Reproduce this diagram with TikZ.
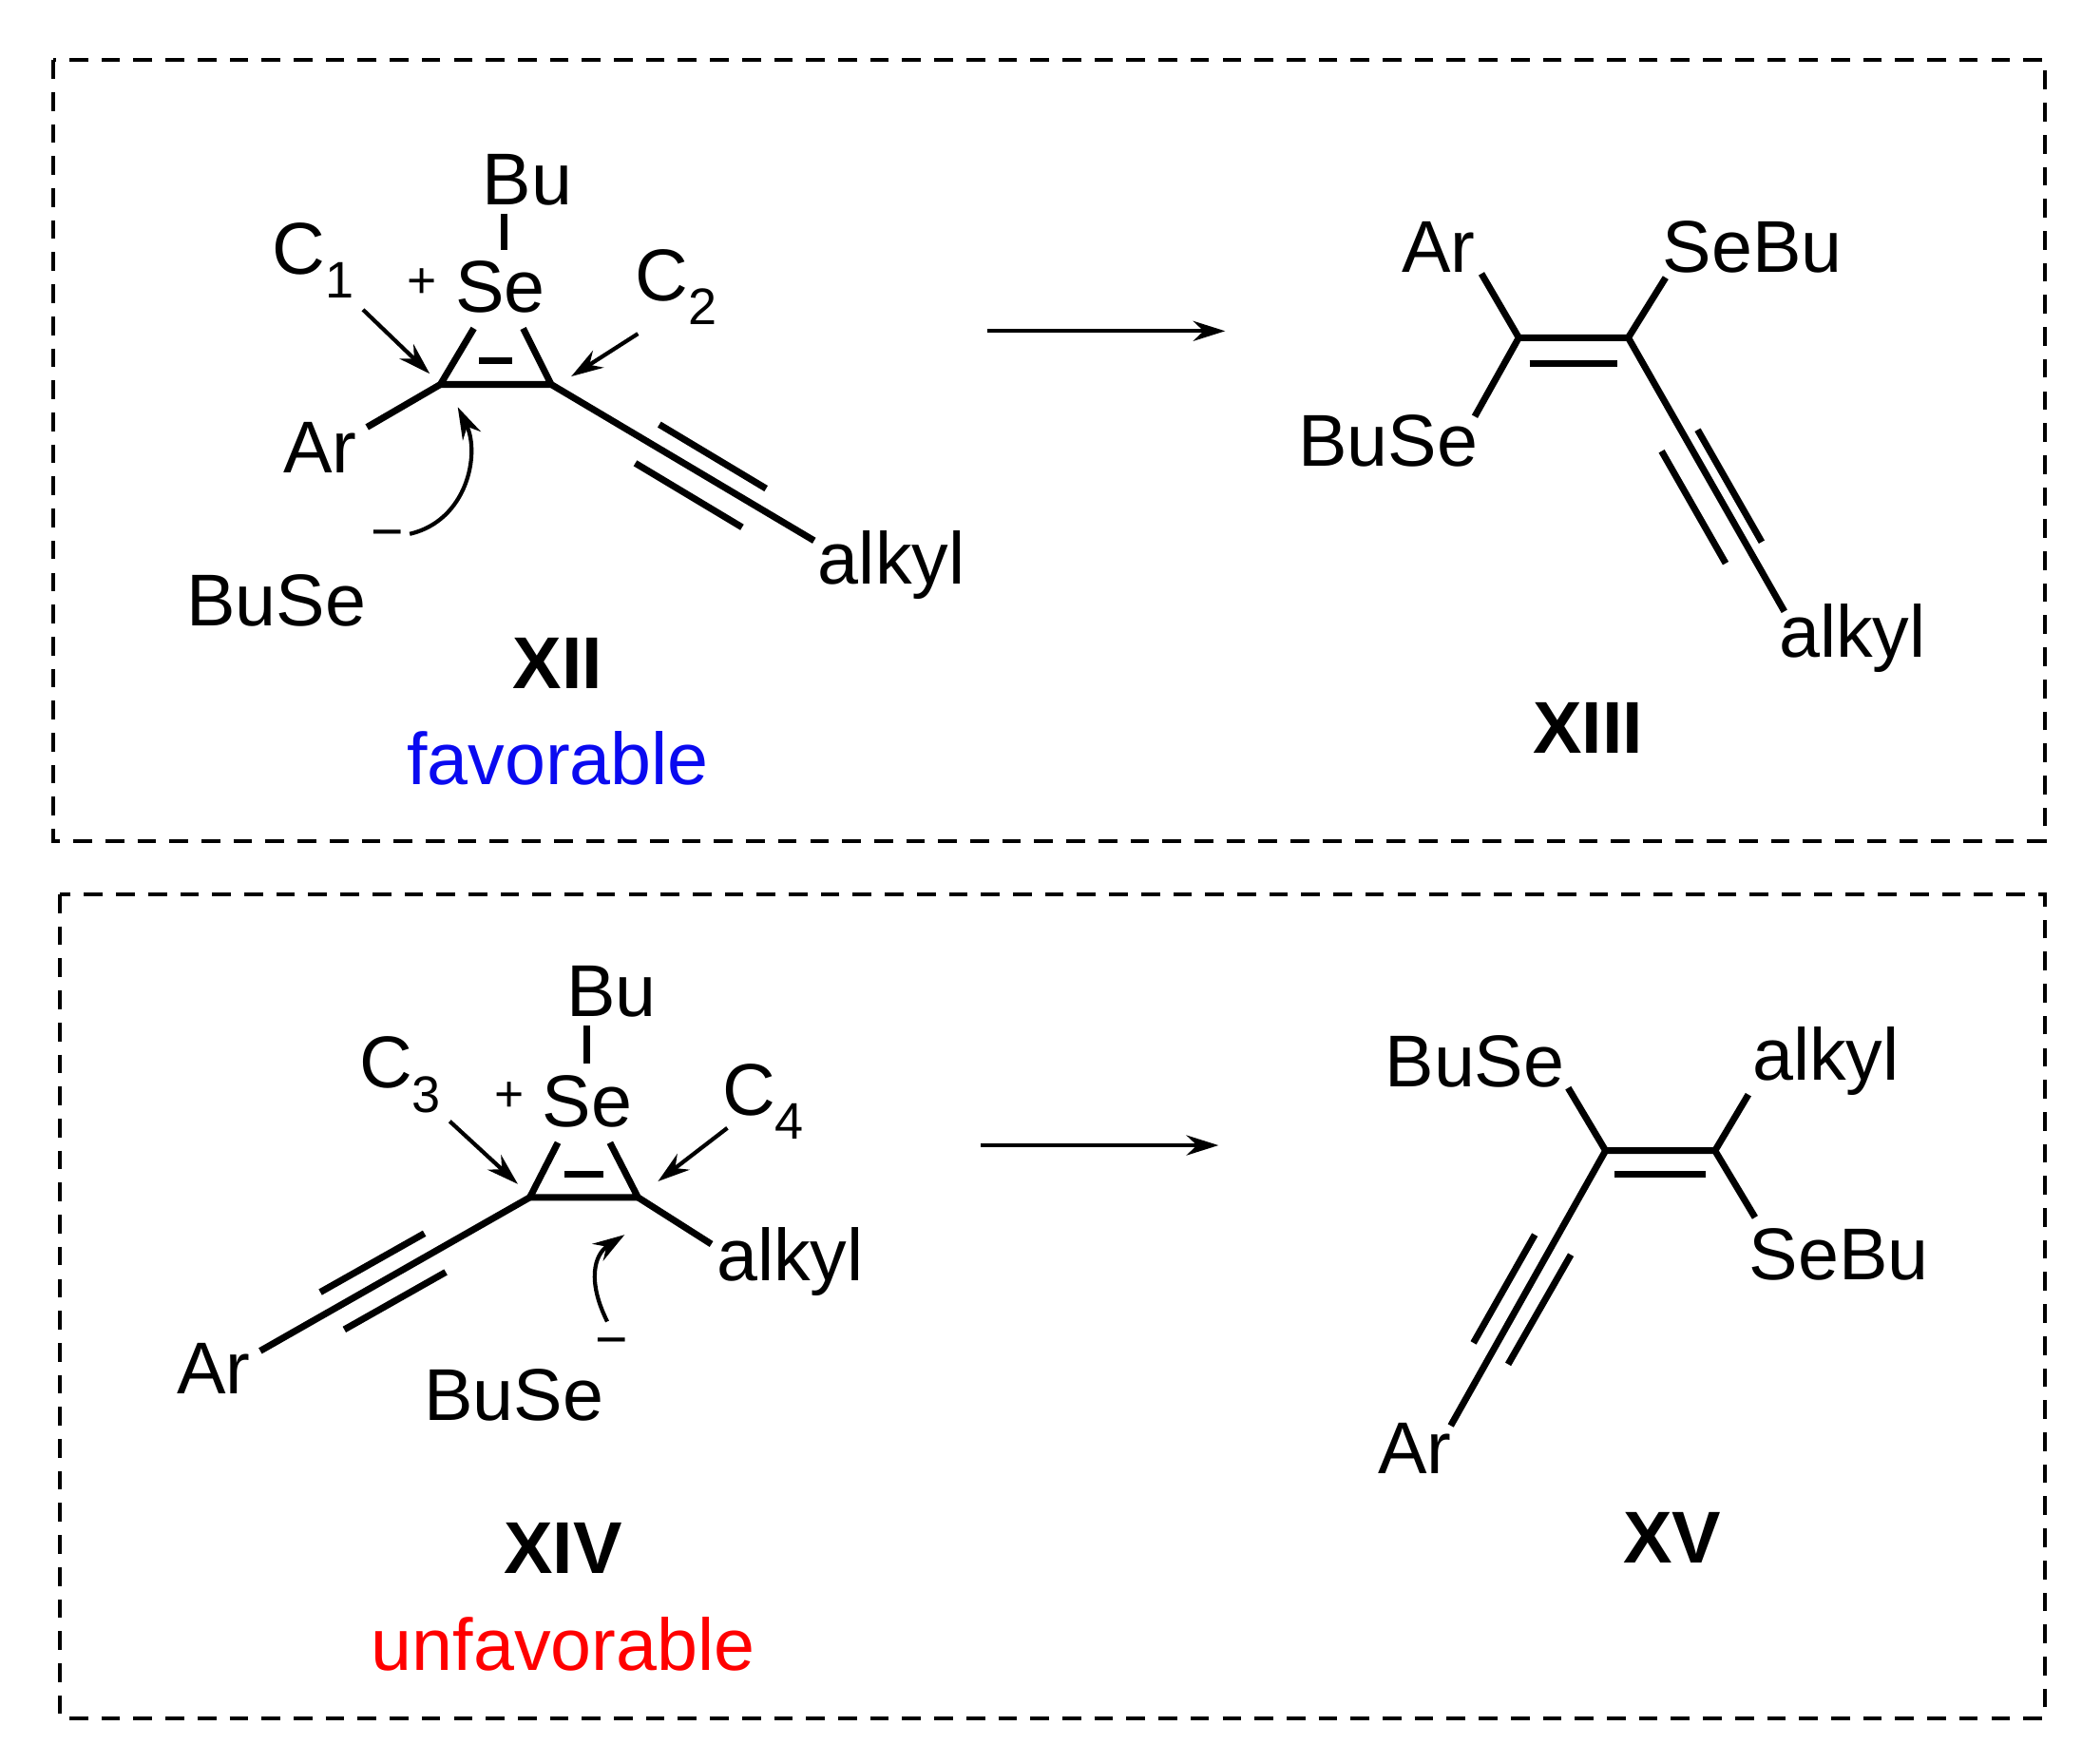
\documentclass[tikz,border=0pt]{standalone}
\usepackage{fontspec}
\setmainfont{Liberation Sans}
\usetikzlibrary{arrows.meta}
\begin{document}
\begin{tikzpicture}[x=1pt,y=-1pt,line width=5pt,
  lbl/.style={font=\fontsize{55}{64}\selectfont,inner sep=0pt},
  bl/.style={font=\fontsize{55}{64}\selectfont\bfseries,inner sep=0pt},
  bnd/.style={line width=5pt},
  arr/.style={line width=3pt,-{Stealth[length=24pt,width=15pt]}},
  frame/.style={line width=2.8pt,dash pattern=on 14pt off 10pt}]
\useasboundingbox (0,0) rectangle (1560,1321);
\draw[frame] (40,45) rectangle (1532,630);
\draw[frame] (45,670) rectangle (1532,1287);
% XII
\node[lbl] (bu1) at (395,135) {Bu};
\node[lbl] (se1) at (375,215) {Se};
\node[lbl] (p1) at (316,212) {\fontsize{38}{40}\selectfont +};
\node[lbl] (c1) at (235,195) {C\textsubscript{1}};
\node[lbl] (c2) at (507,215) {C\textsubscript{2}};
\node[lbl] (ar1) at (240,335) {Ar};
\node[lbl] (al1) at (668,423) {alkyl};
\node[lbl] (bs1) at (207,450) {BuSe};
\node[lbl] (m1) at (290,405) {\fontsize{42}{40}\selectfont −};
\node[bl] (xii) at (418,497) {XII};
\node[lbl,text={rgb,255:red,10;green,10;blue,240}] (fav) at (418,568) {favorable};
\draw[bnd] (378,160)--(378,187);
\draw[bnd] (355,246)--(330,288)--(413,288)--(392,246);
\draw[bnd] (359,270)--(384,270);
\draw[bnd] (275,320)--(330,288);
\draw[bnd] (413,288)--(610,405);
\draw[bnd] (476,347)--(556,395);
\draw[bnd] (494,318)--(574,366);
\draw[arr] (272,232)--(322,280);
\draw[arr] (478,250)--(428,282);
\draw[arr] (307,400) .. controls (350,390) and (360,340) .. (343,305);
\draw[arr] (740,248)--(918,248);
% XIII
\draw[bnd] (1110,205)--(1138,253)--(1220,253)--(1248,208);
\draw[bnd] (1146,272)--(1212,272);
\draw[bnd] (1105,312)--(1138,253);
\draw[bnd] (1220,253)--(1337,458);
\draw[bnd] (1245,338)--(1293,422);
\draw[bnd] (1272,322)--(1320,406);
\node[lbl] (ar2) at (1078,185) {Ar};
\node[lbl] (sb2) at (1313,185) {SeBu};
\node[lbl] (bs2) at (1040,330) {BuSe};
\node[lbl] (al2) at (1388,478) {alkyl};
\node[bl] (xiii) at (1190,545) {XIII};
% XIV
\node[lbl] (bu3) at (458,743) {Bu};
\node[lbl] (se3) at (440,825) {Se};
\node[lbl] (p3) at (382,822) {\fontsize{38}{40}\selectfont +};
\node[lbl] (c3) at (300,805) {C\textsubscript{3}};
\node[lbl] (c4) at (572,825) {C\textsubscript{4}};
\node[lbl] (ar3) at (160,1025) {Ar};
\node[lbl] (al3) at (592,945) {alkyl};
\node[lbl] (bs3) at (385,1045) {BuSe};
\node[lbl] (m3) at (458,1010) {\fontsize{42}{40}\selectfont −};
\node[bl] (xiv) at (422,1160) {XIV};
\node[lbl,text=red] (unf) at (422,1232) {unfavorable};
\draw[bnd] (440,768)--(440,797);
\draw[bnd] (418,856)--(397,897)--(478,897)--(457,856);
\draw[bnd] (423,880)--(452,880);
\draw[bnd] (397,897)--(195,1012);
\draw[bnd] (240,968)--(318,924);
\draw[bnd] (258,996)--(334,953);
\draw[bnd] (478,897)--(533,932);
\draw[arr] (337,840)--(388,887);
\draw[arr] (545,845)--(493,885);
\draw[arr] (455,990) .. controls (440,960) and (445,940) .. (468,925);
\draw[arr] (735,858)--(913,858);
% XV
\draw[bnd] (1175,815)--(1203,862)--(1285,862)--(1310,820);
\draw[bnd] (1210,880)--(1278,880);
\draw[bnd] (1285,862)--(1315,912);
\draw[bnd] (1203,862)--(1087,1068);
\draw[bnd] (1177,940)--(1130,1022);
\draw[bnd] (1150,925)--(1104,1006);
\node[lbl] (bs4) at (1105,795) {BuSe};
\node[lbl] (al4) at (1368,795) {alkyl};
\node[lbl] (sb4) at (1378,940) {SeBu};
\node[lbl] (ar4) at (1060,1085) {Ar};
\node[bl] (xv) at (1253,1152) {XV};
\end{tikzpicture}
\end{document}
